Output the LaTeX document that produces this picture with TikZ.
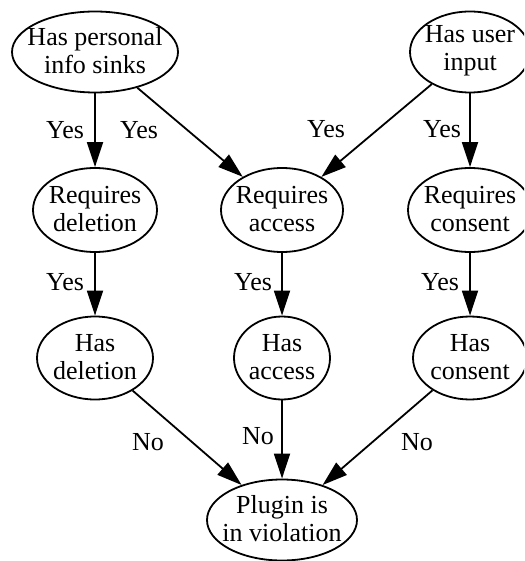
\documentclass[tikz,border=0pt]{standalone}
\usepackage{fontspec}
\setmainfont{Liberation Serif}
\usetikzlibrary{shapes.geometric,arrows.meta}
\tikzset{
  decision/.style={ellipse, draw, line width=1.8pt, inner sep=0pt},
  txt/.style={align=center, inner sep=0pt, font=\fontsize{26}{28}\selectfont},
  flow/.style={line width=1.8pt, -{Triangle[length=25pt,width=16pt]}},
  lbl/.style={font=\fontsize{26}{28}\selectfont, inner sep=0pt}
}
\newcommand{\dnode}[6]{%
  \node[decision, minimum width=#3, minimum height=#4] (#1) at (#2) {};
  \node[txt] (#1-t) at (#5) {#6};}
\begin{document}
\begin{tikzpicture}[x=1pt,y=-1pt]
\useasboundingbox (0,0) rectangle (524,561);
\clip (0,0) rectangle (524,561);
\dnode{hpi}{95,52}{166pt}{81pt}{95,51}{Has personal\\info sinks}
\dnode{hui}{470,52}{120pt}{81pt}{470,51}{Has user\\input}
\dnode{rd}{95,210}{124pt}{84pt}{95,209}{Requires\\deletion}
\dnode{ra}{282,210}{122pt}{84pt}{282,209}{Requires\\access}
\dnode{rc}{470,210}{124pt}{84pt}{470,209}{Requires\\consent}
\dnode{hd}{95,358}{116pt}{83pt}{95,357}{Has\\deletion}
\dnode{ha}{282,358}{96pt}{83pt}{282,357}{Has\\access}
\dnode{hc}{470,358}{114pt}{83pt}{470,357}{Has\\consent}
\dnode{p}{282,520}{150pt}{81pt}{282,519}{Plugin is\\in violation}

\draw[flow] (hpi) -- (rd);
\draw[flow] (hpi) -- (ra);
\draw[flow] (hui) -- (ra);
\draw[flow] (hui) -- (rc);
\draw[flow] (rd) -- (hd);
\draw[flow] (ra) -- (ha);
\draw[flow] (rc) -- (hc);
\draw[flow] (hd) -- (p);
\draw[flow] (ha) -- (p);
\draw[flow] (hc) -- (p);

\node[lbl] (y1) at (65,130) {Yes};
\node[lbl] (y2) at (139,130) {Yes};
\node[lbl] (y3) at (326,129) {Yes};
\node[lbl] (y4) at (442,129) {Yes};
\node[lbl] (y5) at (65,282) {Yes};
\node[lbl] (y6) at (253,282) {Yes};
\node[lbl] (y7) at (440,282) {Yes};
\node[lbl] (n1) at (148,442) {No};
\node[lbl] (n2) at (258,436) {No};
\node[lbl] (n3) at (417,442) {No};
\end{tikzpicture}
\end{document}
